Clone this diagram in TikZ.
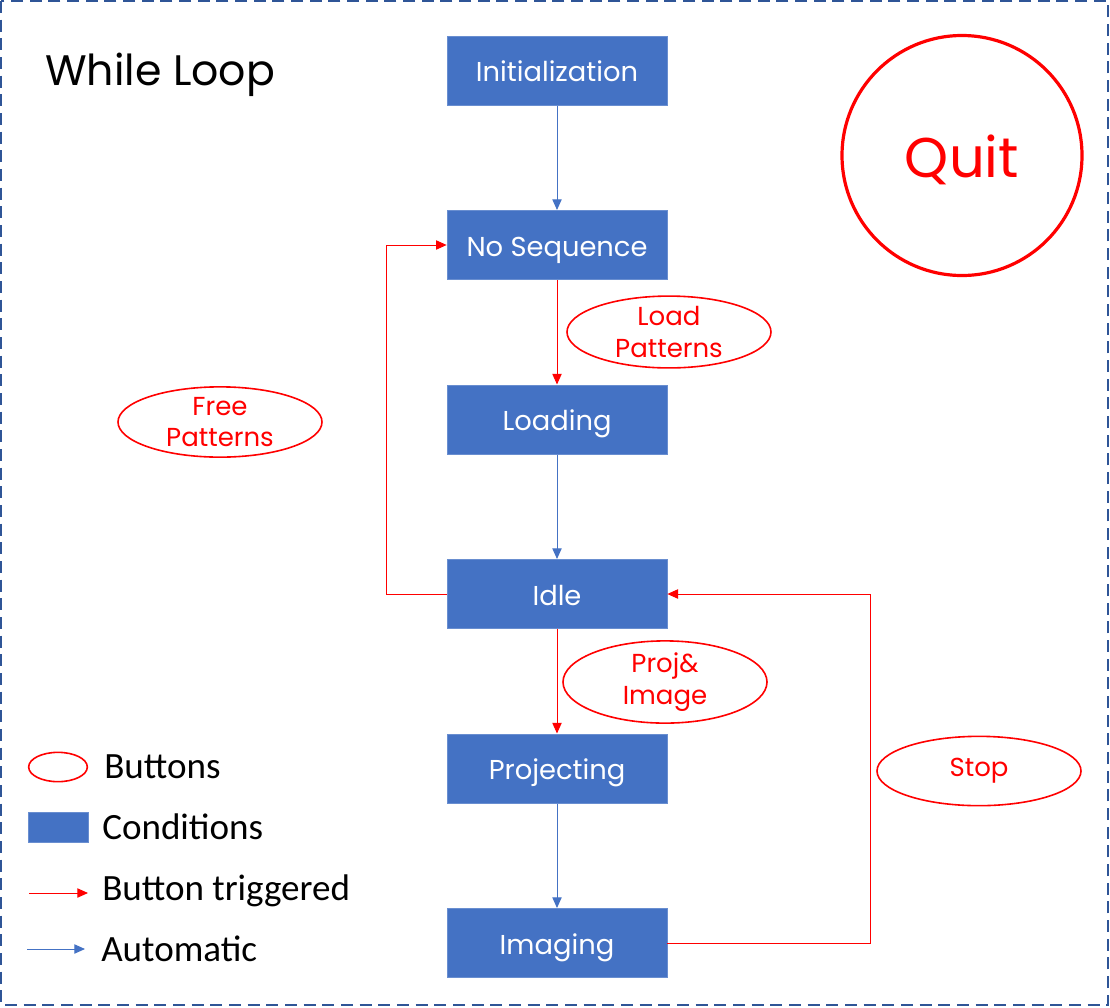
\documentclass[tikz,border=0pt]{standalone}
\usepackage{fontspec}
\setmainfont{Poppins}
\newfontfamily\legendfont{Carlito}
\usetikzlibrary{arrows.meta,shapes.geometric}
\definecolor{boxblue}{HTML}{4472C4}
\definecolor{bordblue}{HTML}{2F5597}
\definecolor{btnred}{HTML}{FF0000}
\begin{document}
\begin{tikzpicture}[x=0.75pt,y=-0.75pt,
  cond/.style={fill=boxblue, draw=boxblue!80!white, line width=0.5pt, minimum width=165pt, minimum height=52pt, inner sep=0pt, text=white, text height=16.5pt, text depth=0pt, font=\fontsize{20.5}{24}\selectfont},
  button/.style={ellipse, draw=btnred, line width=1.2pt, minimum width=153pt, minimum height=52pt, inner sep=0pt, text=btnred, align=center, font=\fontsize{19.5}{23.5}\selectfont},
  autoarrow/.style={draw=boxblue, line width=0.75pt, -{Triangle[length=8pt,width=7pt]}},
  btnarrow/.style={draw=btnred, line width=0.75pt, -{Triangle[length=8pt,width=7pt]}},
  legtext/.style={anchor=base west, inner sep=0pt, font=\legendfont\fontsize{27.8}{32}\selectfont},
]
\useasboundingbox (0,0) rectangle (1110,1007);
\draw[bordblue, line width=1.6pt, dash pattern=on 9pt off 5pt] (1,1) rectangle (1108,1005);

\node[anchor=base west, inner sep=0pt, font=\fontsize{32}{38}\selectfont] (title) at (45,85) {While Loop};

\node[cond] (init) at (557,70.5) {Initialization};
\node[cond] (noseq) at (557,245) {No Sequence};
\node[cond] (loading) at (557,419.5) {Loading};
\node[cond] (idle) at (557,594) {Idle};
\node[cond] (proj) at (557,768.5) {Projecting};
\node[cond] (imaging) at (557,943) {Imaging};

\node[circle, draw=btnred, line width=2.4pt, minimum size=180pt, inner sep=0pt] (quitc) at (962,155.5) {};
\node[anchor=base, inner sep=0pt, text=btnred, font=\fontsize{42}{48}\selectfont] (quit) at (962,177) {Quit};

\node[button] (bload) at (669,332) {Load\\Patterns};
\node[button] (bfree) at (220,422) {Free\\Patterns};
\node[button] (bproj) at (665,682) {Proj\&\\Image};
\node[button] (bstop) at (979,771) {Stop};

\draw[autoarrow] (init) -- (noseq);
\draw[btnarrow] (noseq) -- (loading);
\draw[autoarrow] (loading) -- (idle);
\draw[btnarrow] (idle) -- (proj);
\draw[autoarrow] (proj) -- (imaging);
\draw[btnarrow] (idle.west) -- ++(-60,0) |- (noseq.west);
\draw[btnarrow] (imaging.east) -- ++(203,0) |- (idle.east);

% legend
\node[ellipse, draw=btnred, line width=1.2pt, minimum width=44pt, minimum height=22pt, inner sep=0pt] (lgbtn) at (58,767) {};
\node[legtext] (lgbtntext) at (104,778) {Buttons};
\node[fill=boxblue, draw=boxblue!80!white, line width=0.5pt, minimum width=45pt, minimum height=22.5pt, inner sep=0pt] (lgcond) at (58,827) {};
\node[legtext] (lgcondtext) at (102,839) {Conditions};
\coordinate (lgr1) at (29,893);
\coordinate (lgr2) at (88,893);
\draw[btnarrow] (lgr1) -- (lgr2);
\node[legtext] (lgrtext) at (102,900) {Button triggered};
\coordinate (lgb1) at (27,949);
\coordinate (lgb2) at (85,949);
\draw[autoarrow] (lgb1) -- (lgb2);
\node[legtext] (lgbtext) at (101,961) {Automatic};
\end{tikzpicture}
\end{document}
